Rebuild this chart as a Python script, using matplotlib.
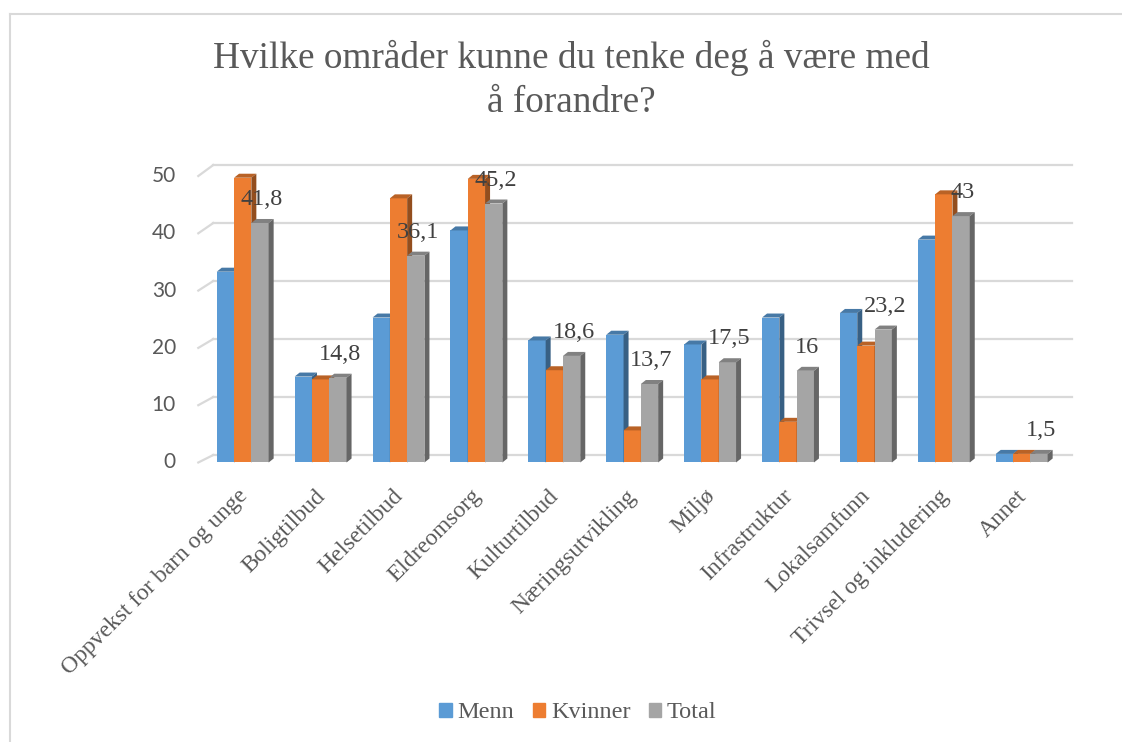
import matplotlib.pyplot as plt
from matplotlib.patches import Polygon, Patch
from matplotlib.lines import Line2D
import numpy as np

categories = [
    "Oppvekst for barn og unge", "Boligtilbud", "Helsetilbud", "Eldreomsorg",
    "Kulturtilbud", "Næringsutvikling", "Miljø", "Infrastruktur",
    "Lokalsamfunn", "Trivsel og inkludering", "Annet",
]
menn = [33.3, 15.0, 25.3, 40.5, 21.3, 22.3, 20.6, 25.3, 26.1, 38.9, 1.5]
kvinner = [49.7, 14.5, 46.1, 49.5, 16.1, 5.6, 14.5, 7.1, 20.4, 46.8, 1.5]
total = [41.8, 14.8, 36.1, 45.2, 18.6, 13.7, 17.5, 16.0, 23.2, 43.0, 1.5]
total_labels = ["41,8", "14,8", "36,1", "45,2", "18,6", "13,7", "17,5", "16", "23,2", "43", "1,5"]
yticks = [0, 10, 20, 30, 40, 50]

series = [("Menn", menn, "#5B9BD5"), ("Kvinner", kvinner, "#ED7D31"), ("Total", total, "#A5A5A5")]

W, H = 1122, 742
fig = plt.figure(figsize=(W / 100, H / 100), dpi=100)

# axes placed in pixels so the fake 3D offsets are easy to reason about
left, right, top, bottom = 190, 1080, 155, 480
ax = fig.add_axes([left / W, 1 - bottom / H, (right - left) / W, (bottom - top) / H])

x0_px, step_px = 242.7, 77.9
y0_px, unit_px = 462.5, 5.73
ax.set_xlim((left - x0_px) / step_px, (right - x0_px) / step_px)
ax.set_ylim(-(bottom - y0_px) / unit_px, (y0_px - top) / unit_px)

grid_col = "#d9d9d9"
back_x0 = (213.3 - x0_px) / step_px
front_x0 = (198.3 - x0_px) / step_px
back_x1 = (1072 - x0_px) / step_px
for v in yticks:
    yb = (y0_px - 455 + 5.8 * v) / unit_px
    ax.plot([front_x0, back_x0], [v, yb], color=grid_col, lw=1.6, zorder=0, clip_on=False)
    ax.plot([back_x0, back_x1], [yb, yb], color=grid_col, lw=1.6, zorder=0, clip_on=False)

x = np.arange(len(categories))
w = 17.3 / step_px
dx = 5 / step_px
dy = 4 / unit_px


def shade(c, f):
    r, g, b = [int(c[i:i + 2], 16) / 255 for i in (1, 3, 5)]
    return (r * f, g * f, b * f)


for k, (name, vals, col) in enumerate(series):
    xs = x + (k - 1) * w
    ax.bar(xs, vals, width=w, color=col, zorder=3 + k, linewidth=0)
    for xi, h in zip(xs, vals):
        xl, xr = xi - w / 2, xi + w / 2
        ax.add_patch(Polygon([(xl, h), (xr, h), (xr + dx, h + dy), (xl + dx, h + dy)],
                             closed=True, color=shade(col, 0.78), lw=0, zorder=3 + k))
        ax.add_patch(Polygon([(xr, 0), (xr + dx, dy), (xr + dx, h + dy), (xr, h)],
                             closed=True, color=shade(col, 0.62), lw=0, zorder=3 + k))

for xi, h, lab in zip(x + w, total, total_labels):
    ax.text(xi + 2 / step_px, h + 4.1, lab, ha="center", va="center",
            fontsize=17.5, family="Liberation Serif", color="#404040", zorder=10)

for v in yticks:
    ax.text((176 - x0_px) / step_px, v, str(v), ha="right", va="center",
            fontsize=15, family="Lato", color="#595959")

ax.set_xticks(x - 6 / step_px)
ax.set_xticklabels(categories, rotation=45, ha="right", rotation_mode="anchor",
                   fontsize=17, family="Liberation Serif", color="#595959")
ax.tick_params(axis="x", length=0, pad=4)
ax.set_yticks([])
for s in ax.spines.values():
    s.set_visible(False)
ax.patch.set_alpha(0)

fig.text(571 / W, 1 - 80 / H, "Hvilke områder kunne du tenke deg å være med\nå forandre?",
         ha="center", va="center", fontsize=26.8, family="Liberation Serif",
         color="#595959", linespacing=1.33)

handles = [Patch(color=c, label=n) for n, _, c in series]
fig.legend(handles=handles, loc="center", bbox_to_anchor=(578 / W, 1 - 713 / H), ncol=3,
           frameon=False, handlelength=0.5, handleheight=0.5, handletextpad=0.25,
           columnspacing=0.75, prop={"family": "Liberation Serif", "size": 17.5},
           labelcolor="#595959")

# chart border: only the top and left edges fall inside the picture
fig.add_artist(Line2D([10 / W, 1.0], [1 - 14 / H, 1 - 14 / H], transform=fig.transFigure,
                      color="#d9d9d9", lw=1.5))
fig.add_artist(Line2D([10 / W, 10 / W], [0.0, 1 - 14 / H], transform=fig.transFigure,
                      color="#d9d9d9", lw=1.5))

fig.savefig("out.png", dpi=100)
